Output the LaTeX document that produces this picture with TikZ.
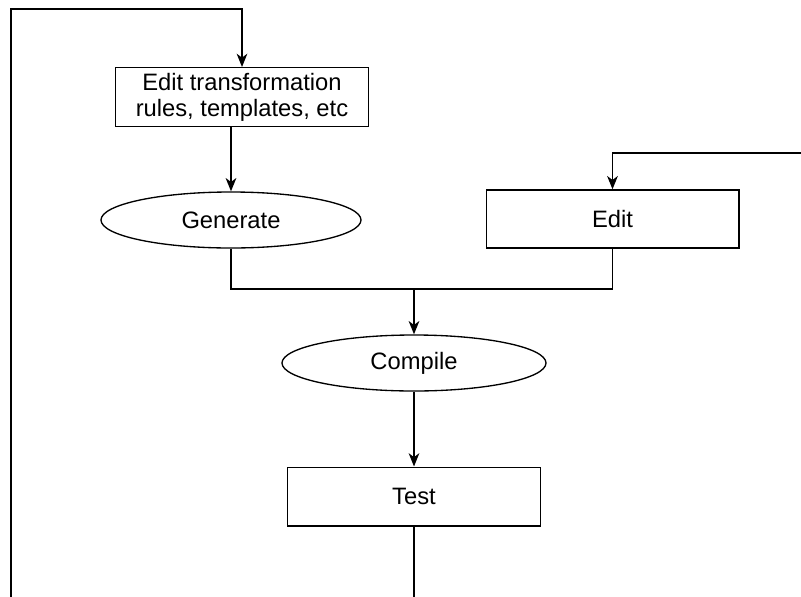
\documentclass[tikz,border=0pt]{standalone}
\usepackage{fontspec}
\setmainfont{Liberation Sans}
\usetikzlibrary{arrows.meta,shapes.geometric}
\begin{document}
\begin{tikzpicture}[x=0.75pt,y=-0.75pt,
  line width=1pt,
  every node/.style={font=\fontsize{17.8}{19.5}\selectfont, inner sep=0pt, draw, line width=1pt},
  boxnode/.style={rectangle, minimum width=189.5pt, minimum height=44pt, align=center},
  ellnode/.style={ellipse, minimum height=42pt},
  arr/.style={-{Stealth[length=10pt,width=8pt,inset=3pt]}}]
\useasboundingbox (0,0) rectangle (801,597);
\node[boxnode] (rules) at (242,97) {Edit transformation\\rules, templates, etc};
\node[ellnode, minimum width=195pt] (gen) at (231,220) {Generate};
\node[boxnode, minimum height=43.5pt] (edit) at (612.5,219) {Edit};
\node[ellnode, minimum width=198pt] (comp) at (414,363) {Compile};
\node[boxnode] (test) at (414,496.5) {Test};
\coordinate (m) at (414,289);
\coordinate (bt) at (414,597);
\coordinate (lb) at (11,597);
\coordinate (lt) at (11,9);
\coordinate (rt) at (801,153);
\draw[arr] (lb) -- (lt) -| (rules.north);
\draw[arr] (rules.south -| gen.north) -- (gen.north);
\draw[arr] (rt) -| (edit.north);
\draw (gen.south) -- (gen.south |- m) -- (edit.south |- m) -- (edit.south);
\draw[arr] (m) -- (comp.north);
\draw[arr] (comp.south) -- (test.north);
\draw (test.south) -- (bt);
\end{tikzpicture}
\end{document}
